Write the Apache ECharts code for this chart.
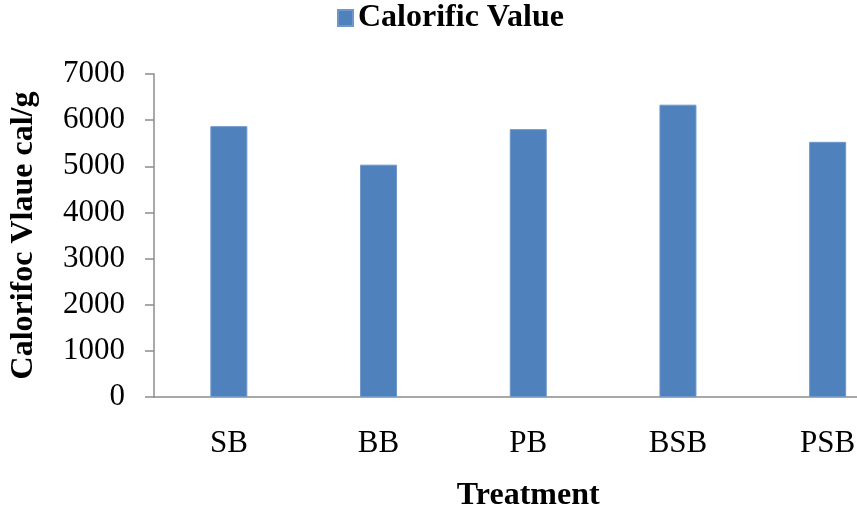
<!DOCTYPE html>
<html>
<head>
<meta charset="utf-8">
<script src="https://cdn.jsdelivr.net/npm/echarts@6/dist/echarts.min.js"></script>
<style>html,body{margin:0;padding:0;background:#fff;}#c{width:857px;height:516px;}</style>
</head>
<body>
<div id="c"></div>
<script>
var categories = ['SB', 'BB', 'PB', 'BSB', 'PSB'];
var calorificValues = [5870, 5035, 5805, 6335, 5530];
var seriesName = 'Calorific Value';
var yTicks = [0, 1000, 2000, 3000, 4000, 5000, 6000, 7000];

var serif = '"Liberation Serif", "Times New Roman", serif';
var chart = echarts.init(document.getElementById('c'), null, {renderer: 'canvas'});
chart.setOption({
  backgroundColor: '#ffffff',
  animation: false,
  legend: {
    data: [seriesName],
    left: 332,
    top: -3,
    icon: 'rect',
    itemWidth: 15,
    itemHeight: 16,
    itemGap: 10,
    textStyle: {fontFamily: serif, fontWeight: 'bold', fontSize: 32, color: '#000'}
  },
  grid: {left: 154, top: 74, bottom: 119, right: -45.5, containLabel: false, outerBoundsMode: 'none'},
  xAxis: {
    type: 'category',
    data: categories,
    name: 'Treatment',
    nameLocation: 'middle',
    nameGap: 83,
    nameTextStyle: {fontFamily: serif, fontWeight: 'bold', fontSize: 32, color: '#000'},
    axisLine: {lineStyle: {color: '#8c8c8c', width: 1.5}},
    axisTick: {show: false},
    axisLabel: {fontFamily: serif, fontSize: 31, color: '#000', margin: 31}
  },
  yAxis: {
    type: 'value',
    min: yTicks[0],
    max: yTicks[yTicks.length - 1],
    interval: 1000,
    name: 'Calorifoc Vlaue cal/g',
    nameLocation: 'middle',
    nameGap: 114,
    nameTextStyle: {fontFamily: serif, fontWeight: 'bold', fontSize: 32, color: '#000'},
    axisLine: {show: true, lineStyle: {color: '#8c8c8c', width: 1.5}},
    axisTick: {show: true, length: 9, lineStyle: {color: '#8c8c8c', width: 1.5}},
    splitLine: {show: false},
    axisLabel: {fontFamily: serif, fontSize: 31, color: '#000', margin: 29, formatter: function (v) { return String(v); }}
  },
  series: [{
    name: seriesName,
    type: 'bar',
    data: calorificValues,
    barWidth: 37,
    itemStyle: {color: '#4F81BD', borderColor: '#6f97c9', borderWidth: 1}
  }]
});
</script>
</body>
</html>
